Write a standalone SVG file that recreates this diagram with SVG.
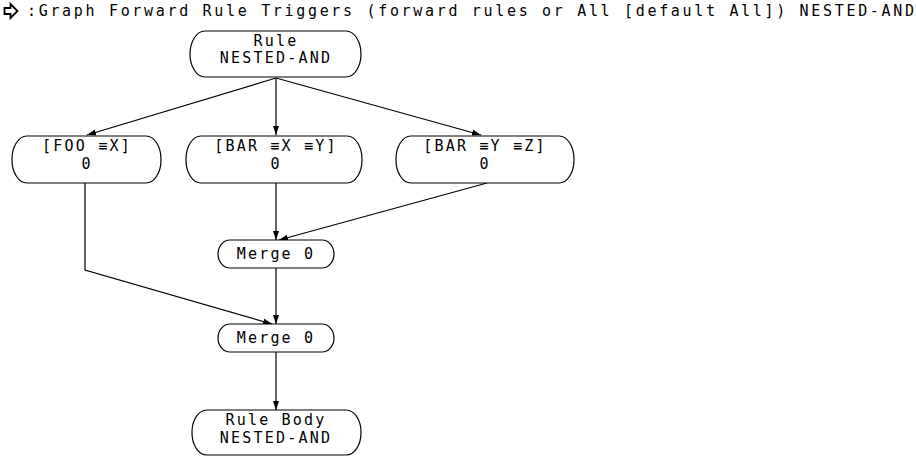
<svg xmlns="http://www.w3.org/2000/svg" width="916" height="456" viewBox="0 0 916 456">
<style>
text{font-family:"DejaVu Sans Mono","Liberation Mono",monospace;font-size:15px;fill:#000;letter-spacing:2.2px;text-anchor:middle}
.box{fill:#fff;stroke:#000;stroke-width:1.2}
.edge{fill:none;stroke:#000;stroke-width:1.2}
</style>
<defs>
<marker id="ah" markerUnits="userSpaceOnUse" markerWidth="12" markerHeight="8" refX="9" refY="3" orient="auto">
<path d="M0,0 L9,3 L0,6 Z" fill="#000"/>
</marker>
</defs>
<g id="header">
<path d="M4.5,8 L10.5,8 L10.5,4 L17.5,11 L10.5,18 L10.5,14 L4.5,14 Z" fill="#fff" stroke="#000" stroke-width="1.8" stroke-linejoin="miter"/>
<text x="27" y="16" style="text-anchor:start;letter-spacing:0" textLength="887" lengthAdjust="spacing">:Graph Forward Rule Triggers (forward rules or All [default All]) NESTED-AND</text>
</g>
<g id="connectors">
<path class="edge" d="M276,78 L87,135" marker-end="url(#ah)"/>
<path class="edge" d="M276,78 L276,135" marker-end="url(#ah)"/>
<path class="edge" d="M276,78 L481,135" marker-end="url(#ah)"/>
<path class="edge" d="M85,183 L85,270 L272,324" marker-end="url(#ah)"/>
<path class="edge" d="M276,183 L276,240" marker-end="url(#ah)"/>
<path class="edge" d="M487,183 L279,240" marker-end="url(#ah)"/>
<path class="edge" d="M276,268 L276,324" marker-end="url(#ah)"/>
<path class="edge" d="M276,352 L276,410" marker-end="url(#ah)"/>
</g>
<g id="rule">
<rect class="box" x="190" y="31" width="171" height="46" rx="15" ry="23"/>
<text x="276" y="46">Rule</text>
<text x="276" y="63">NESTED-AND</text>
</g>
<g id="foo">
<rect class="box" x="12" y="136" width="149" height="47" rx="15" ry="23"/>
<text x="87" y="151">[FOO ≡X]</text>
<text x="87" y="169">0</text>
</g>
<g id="barxy">
<rect class="box" x="186" y="136" width="176" height="47" rx="15" ry="23"/>
<text x="276" y="151">[BAR ≡X ≡Y]</text>
<text x="276" y="169">0</text>
</g>
<g id="baryz">
<rect class="box" x="396" y="136" width="178" height="47" rx="15" ry="23"/>
<text x="485" y="151">[BAR ≡Y ≡Z]</text>
<text x="485" y="169">0</text>
</g>
<g id="merge1">
<rect class="box" x="218" y="240" width="116" height="28" rx="12" ry="14"/>
<text x="276" y="259">Merge 0</text>
</g>
<g id="merge2">
<rect class="box" x="218" y="324" width="116" height="28" rx="12" ry="14"/>
<text x="276" y="343">Merge 0</text>
</g>
<g id="rulebody">
<rect class="box" x="192" y="410" width="169" height="45" rx="15" ry="22"/>
<text x="276" y="425">Rule Body</text>
<text x="276" y="443">NESTED-AND</text>
</g>
</svg>
